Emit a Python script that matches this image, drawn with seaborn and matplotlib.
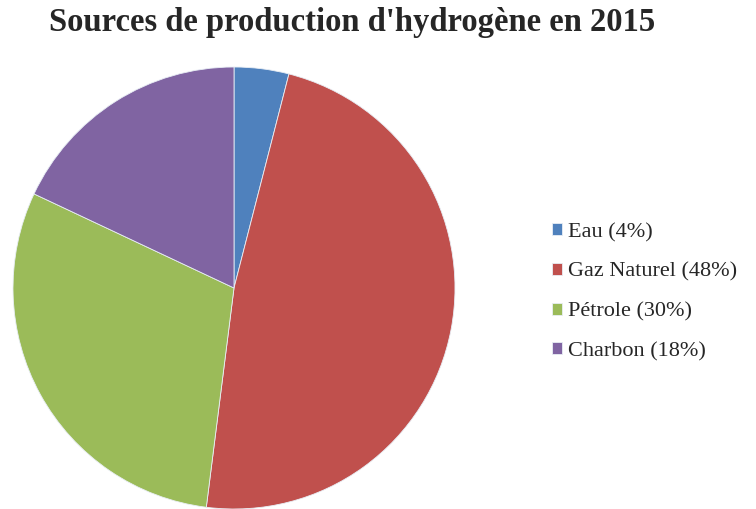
import matplotlib
matplotlib.use('Agg')
import matplotlib.pyplot as plt
import seaborn as sns

# data
sources = ['Eau', 'Gaz Naturel', 'Pétrole', 'Charbon']
parts = [4, 48, 30, 18]
colors = ['#4F81BD', '#C0504D', '#9BBB59', '#8064A2']
title = "Sources de production d'hydrogène en 2015"

sns.set_style('white')
plt.rcParams['font.family'] = ['Liberation Serif', 'DejaVu Serif']

fig = plt.figure(figsize=(7.56, 5.09), dpi=100)
ax = fig.add_axes([13 / 756, 0.0, 442 / 756, 442 / 509])

palette = sns.color_palette(colors)
wedges, _ = ax.pie(parts, colors=palette, startangle=90, counterclock=False,
                   radius=1.0, wedgeprops={'edgecolor': '#e8eef5', 'linewidth': 0.6})
ax.set_xlim(-1, 1)
ax.set_ylim(-1, 1)
ax.set_aspect('equal')

labels = [f'{s} ({p}%)' for s, p in zip(sources, parts)]
ax.legend(wedges, labels, loc='center left',
          bbox_to_anchor=(552 / 756, 1 - 292 / 509), bbox_transform=fig.transFigure,
          frameon=False, fontsize=16,
          handlelength=0.45, handleheight=0.45, handletextpad=0.27,
          labelspacing=0.92, borderpad=0, borderaxespad=0)

fig.text(352 / 756, 1 - 31 / 509, title, ha='center', va='baseline',
         fontsize=23.5, fontweight='bold')

fig.savefig('out.png', dpi=100)
